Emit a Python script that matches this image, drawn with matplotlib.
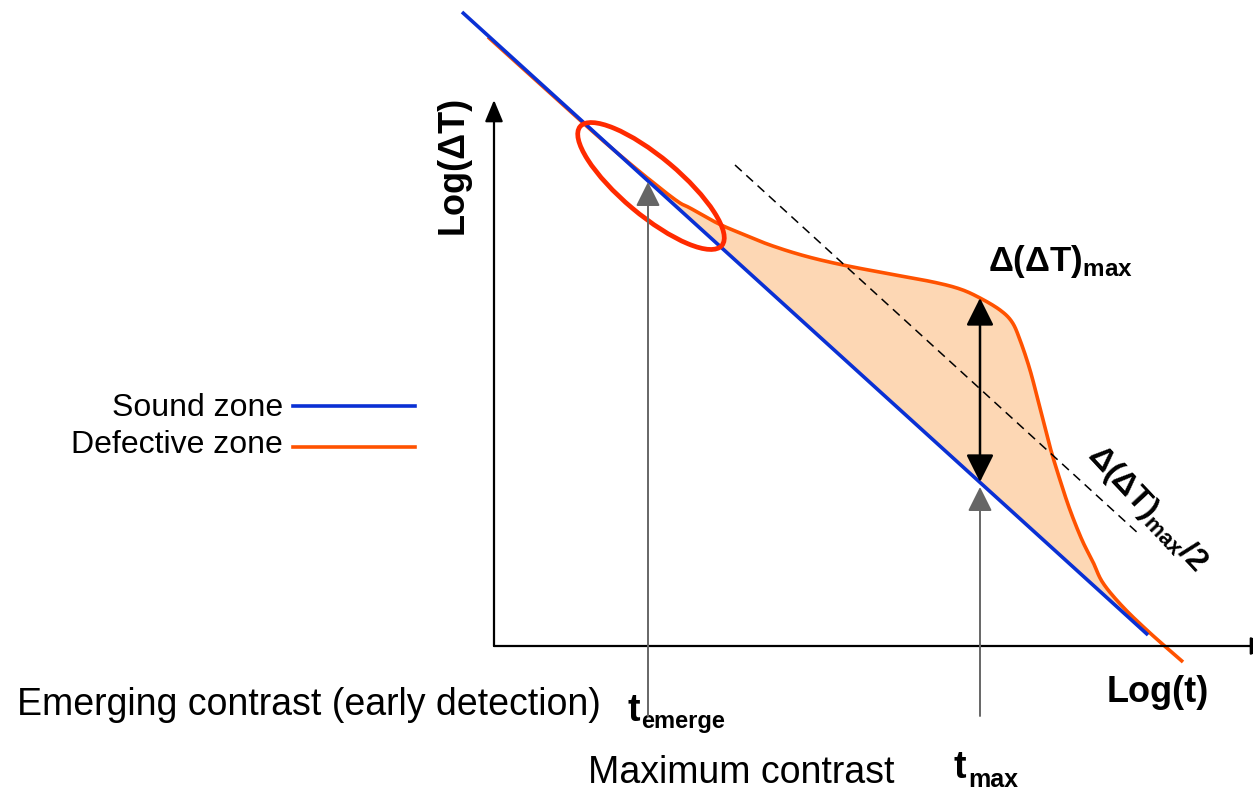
import numpy as np
import matplotlib.pyplot as plt
from matplotlib.patches import Ellipse

plt.rcParams['font.family'] = ['Liberation Sans', 'DejaVu Sans']
plt.rcParams['mathtext.fontset'] = 'custom'
plt.rcParams['mathtext.rm'] = 'Liberation Sans'
plt.rcParams['mathtext.bf'] = 'Liberation Sans:bold'

BLUE = '#0a30d4'
ORANGE = '#ff5200'
RED = '#ff2a00'
PEACH = '#fdd7b4'
GREY = '#666666'

# schematic data, drawn in picture units (y grows downward)
sound_x = [462, 1148]
sound_y = [12, 635]

defect_x = [488, 540, 600, 640, 650, 665, 680, 690, 717, 740, 770, 805, 843, 890,
            933, 960, 980, 1000, 1012, 1020, 1030, 1040, 1050, 1060, 1070, 1082,
            1093, 1103, 1123, 1150, 1183]
defect_y = [37, 84, 138, 172, 180, 192, 203, 208, 223, 233, 245, 256, 265, 274,
            282, 289, 298, 310, 322, 340, 370, 408, 447, 480, 510, 540,
            562, 583, 607, 633, 662]

half_x = [735, 1140]
half_y = [165, 535]

t_emerge = 648
t_max = 980
dmax_top = 298
dmax_bottom = 482


def smooth(x, y, n=12):
    # catmull-rom through the given points
    p = np.column_stack([x, y]).astype(float)
    p = np.vstack([p[0], p, p[-1]])
    out = []
    for i in range(1, len(p) - 2):
        p0, p1, p2, p3 = p[i - 1], p[i], p[i + 1], p[i + 2]
        for t in np.linspace(0, 1, n, endpoint=False):
            t2, t3 = t * t, t * t * t
            out.append(0.5 * ((2 * p1) + (-p0 + p2) * t +
                              (2 * p0 - 5 * p1 + 4 * p2 - p3) * t2 +
                              (-p0 + 3 * p1 - 3 * p2 + p3) * t3))
    out.append(p[-2])
    out = np.array(out)
    return out[:, 0], out[:, 1]


fig = plt.figure(figsize=(12.53, 7.90), dpi=100)
ax = fig.add_axes([0, 0, 1, 1])
ax.set_xlim(0, 1253)
ax.set_ylim(790, 0)
ax.axis('off')

sx, sy = smooth(defect_x, defect_y)
base = np.interp(sx, sound_x, sound_y)
ax.fill_between(sx, sy, base, where=(sx > 640) & (sx < 1150) & (sy < base),
                interpolate=True, color=PEACH, lw=0, zorder=1)

# axes arrows
arrow_axis = dict(arrowstyle='-|>,head_length=0.6,head_width=0.25',
                  mutation_scale=22, color='black', lw=1.6, shrinkA=0, shrinkB=0)
ax.annotate('', xy=(494, 100), xytext=(494, 646), arrowprops=arrow_axis,
            annotation_clip=False)
ax.annotate('', xy=(1272, 646), xytext=(494, 646), arrowprops=arrow_axis,
            annotation_clip=False)

ax.plot(sx, sy, color=ORANGE, lw=2.6, solid_capstyle='butt', zorder=2)
ax.plot(sound_x, sound_y, color=BLUE, lw=2.6, solid_capstyle='butt', zorder=3)

ax.plot(half_x, half_y, color='black', lw=1.1, ls=(0, (6, 4)), zorder=4)

ax.add_patch(Ellipse((651, 186), 185, 58, angle=40, fill=False,
                     edgecolor=RED, lw=3.4, zorder=5))

# grey pointers
for xp, tip in [(t_emerge, 182), (t_max, 487)]:
    ax.annotate('', xy=(xp, tip), xytext=(xp, 716),
                arrowprops=dict(arrowstyle='-|>,head_length=0.5,head_width=0.25',
                                mutation_scale=30, color=GREY, lw=1.4,
                                shrinkA=0, shrinkB=0), zorder=6)

ax.annotate('', xy=(t_max, dmax_top), xytext=(t_max, dmax_bottom),
            arrowprops=dict(arrowstyle='<|-|>,head_length=0.5,head_width=0.25',
                            mutation_scale=34, color='black', lw=1.8,
                            shrinkA=0, shrinkB=0), zorder=7)

# legend
ax.plot([293, 415], [406, 406], color=BLUE, lw=2.6)
ax.plot([293, 415], [447, 447], color=ORANGE, lw=2.6)
ax.text(283, 408, 'Sound zone', ha='right', va='center', fontsize=23)
ax.text(283, 445, 'Defective zone', ha='right', va='center', fontsize=23)

# labels
ax.text(453, 165, 'Log(ΔT)', rotation=90, ha='center', va='center',
        fontsize=26, fontweight='bold')
ax.text(1158, 692, 'Log(t)', ha='center', va='center',
        fontsize=26, fontweight='bold')
ax.text(988, 271, r'$\mathbf{Δ(ΔT)_{max}}$', ha='left', va='baseline',
        fontsize=25)
ax.text(1087, 456, r'$\mathbf{Δ(ΔT)_{max}/2}$', ha='left', va='baseline',
        rotation=-47, rotation_mode='anchor', fontsize=23)

ax.text(627, 721, 't', ha='left', va='baseline', fontsize=27, fontweight='bold')
ax.text(641, 728, 'emerge', ha='left', va='baseline', fontsize=17,
        fontweight='bold')
ax.text(954, 778, 't', ha='left', va='baseline', fontsize=27, fontweight='bold')
ax.text(968, 787, 'max', ha='left', va='baseline', fontsize=18,
        fontweight='bold')

ax.text(17, 705, 'Emerging contrast (early detection)', ha='left', va='center',
        fontsize=27)
ax.text(588, 773, 'Maximum contrast', ha='left', va='center', fontsize=27)

fig.savefig('out.png', dpi=100)
